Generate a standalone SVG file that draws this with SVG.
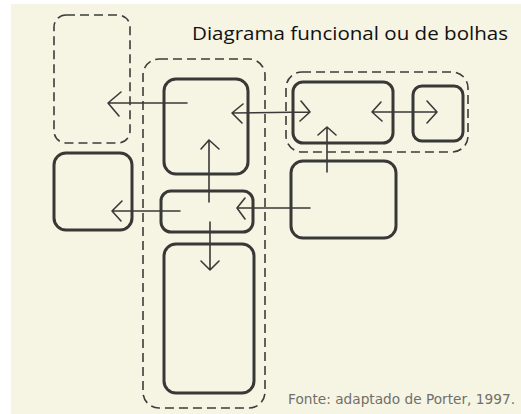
<svg xmlns="http://www.w3.org/2000/svg" width="521" height="414" viewBox="0 0 521 414">
<defs>
<style>
.solid{fill:none;stroke:#383836;stroke-width:3;stroke-linejoin:round}
.dash{fill:none;stroke:#3c3c3a;stroke-width:1.6;stroke-dasharray:9 5}
.ln{fill:none;stroke:#3a3a38;stroke-width:1.6;stroke-linecap:round;stroke-linejoin:round}
.title{font-family:"Open Sans","Noto Sans","Liberation Sans",sans-serif;font-size:19px;fill:#111}
.src{font-family:"DejaVu Sans","Liberation Sans",sans-serif;font-size:14px;fill:#707069}
</style>
</defs>
<rect width="521" height="414" fill="#ffffff"/>
<rect x="11" y="4" width="510" height="410" fill="#f6f4e3"/>
<text class="title" x="192" y="40" textLength="316" lengthAdjust="spacingAndGlyphs">Diagrama funcional ou de bolhas</text>
<g id="n1"><rect class="dash" x="54" y="15" width="76" height="128" rx="12"/></g>
<g id="c2"><rect class="dash" x="143" y="59" width="122" height="349" rx="16"/></g>
<g id="c4"><rect class="dash" x="286" y="72" width="182" height="80" rx="16"/></g>
<g id="n3"><rect class="solid" x="164" y="79" width="84" height="95" rx="12"/></g>
<g id="n5"><rect class="solid" x="293" y="82" width="100" height="61" rx="10"/></g>
<g id="n6"><rect class="solid" x="413" y="86" width="50" height="55" rx="9"/></g>
<g id="n7"><rect class="solid" x="54" y="153" width="78" height="77" rx="12"/></g>
<g id="n8"><rect class="solid" x="161" y="191" width="92" height="41" rx="10"/></g>
<g id="n9"><rect class="solid" x="291" y="161" width="105" height="77" rx="12"/></g>
<g id="n10"><rect class="solid" x="164" y="244" width="90" height="149" rx="12"/></g>
<g id="connectors">
<path class="ln" d="M187 103H108M121 92L108 103L119 116"/>
<path class="ln" d="M232 113L310 112M243 104L232 113L242 123M301 101L310 112L300 121"/>
<path class="ln" d="M372 112H437M381 102L372 112L382 121M427 101L437 112L427 123"/>
<path class="ln" d="M327 172V127M318 135L327 127L336 135"/>
<path class="ln" d="M209 202V140M201 149L209 140L219 149"/>
<path class="ln" d="M210 222V270M201 261L210 270L219 261"/>
<path class="ln" d="M180 211H112M122 201L112 211L121 221"/>
<path class="ln" d="M310 208H237M245 198L237 208L245 219"/>
</g>
<text class="src" x="288" y="404" textLength="227" lengthAdjust="spacingAndGlyphs">Fonte: adaptado de Porter, 1997.</text>
</svg>
